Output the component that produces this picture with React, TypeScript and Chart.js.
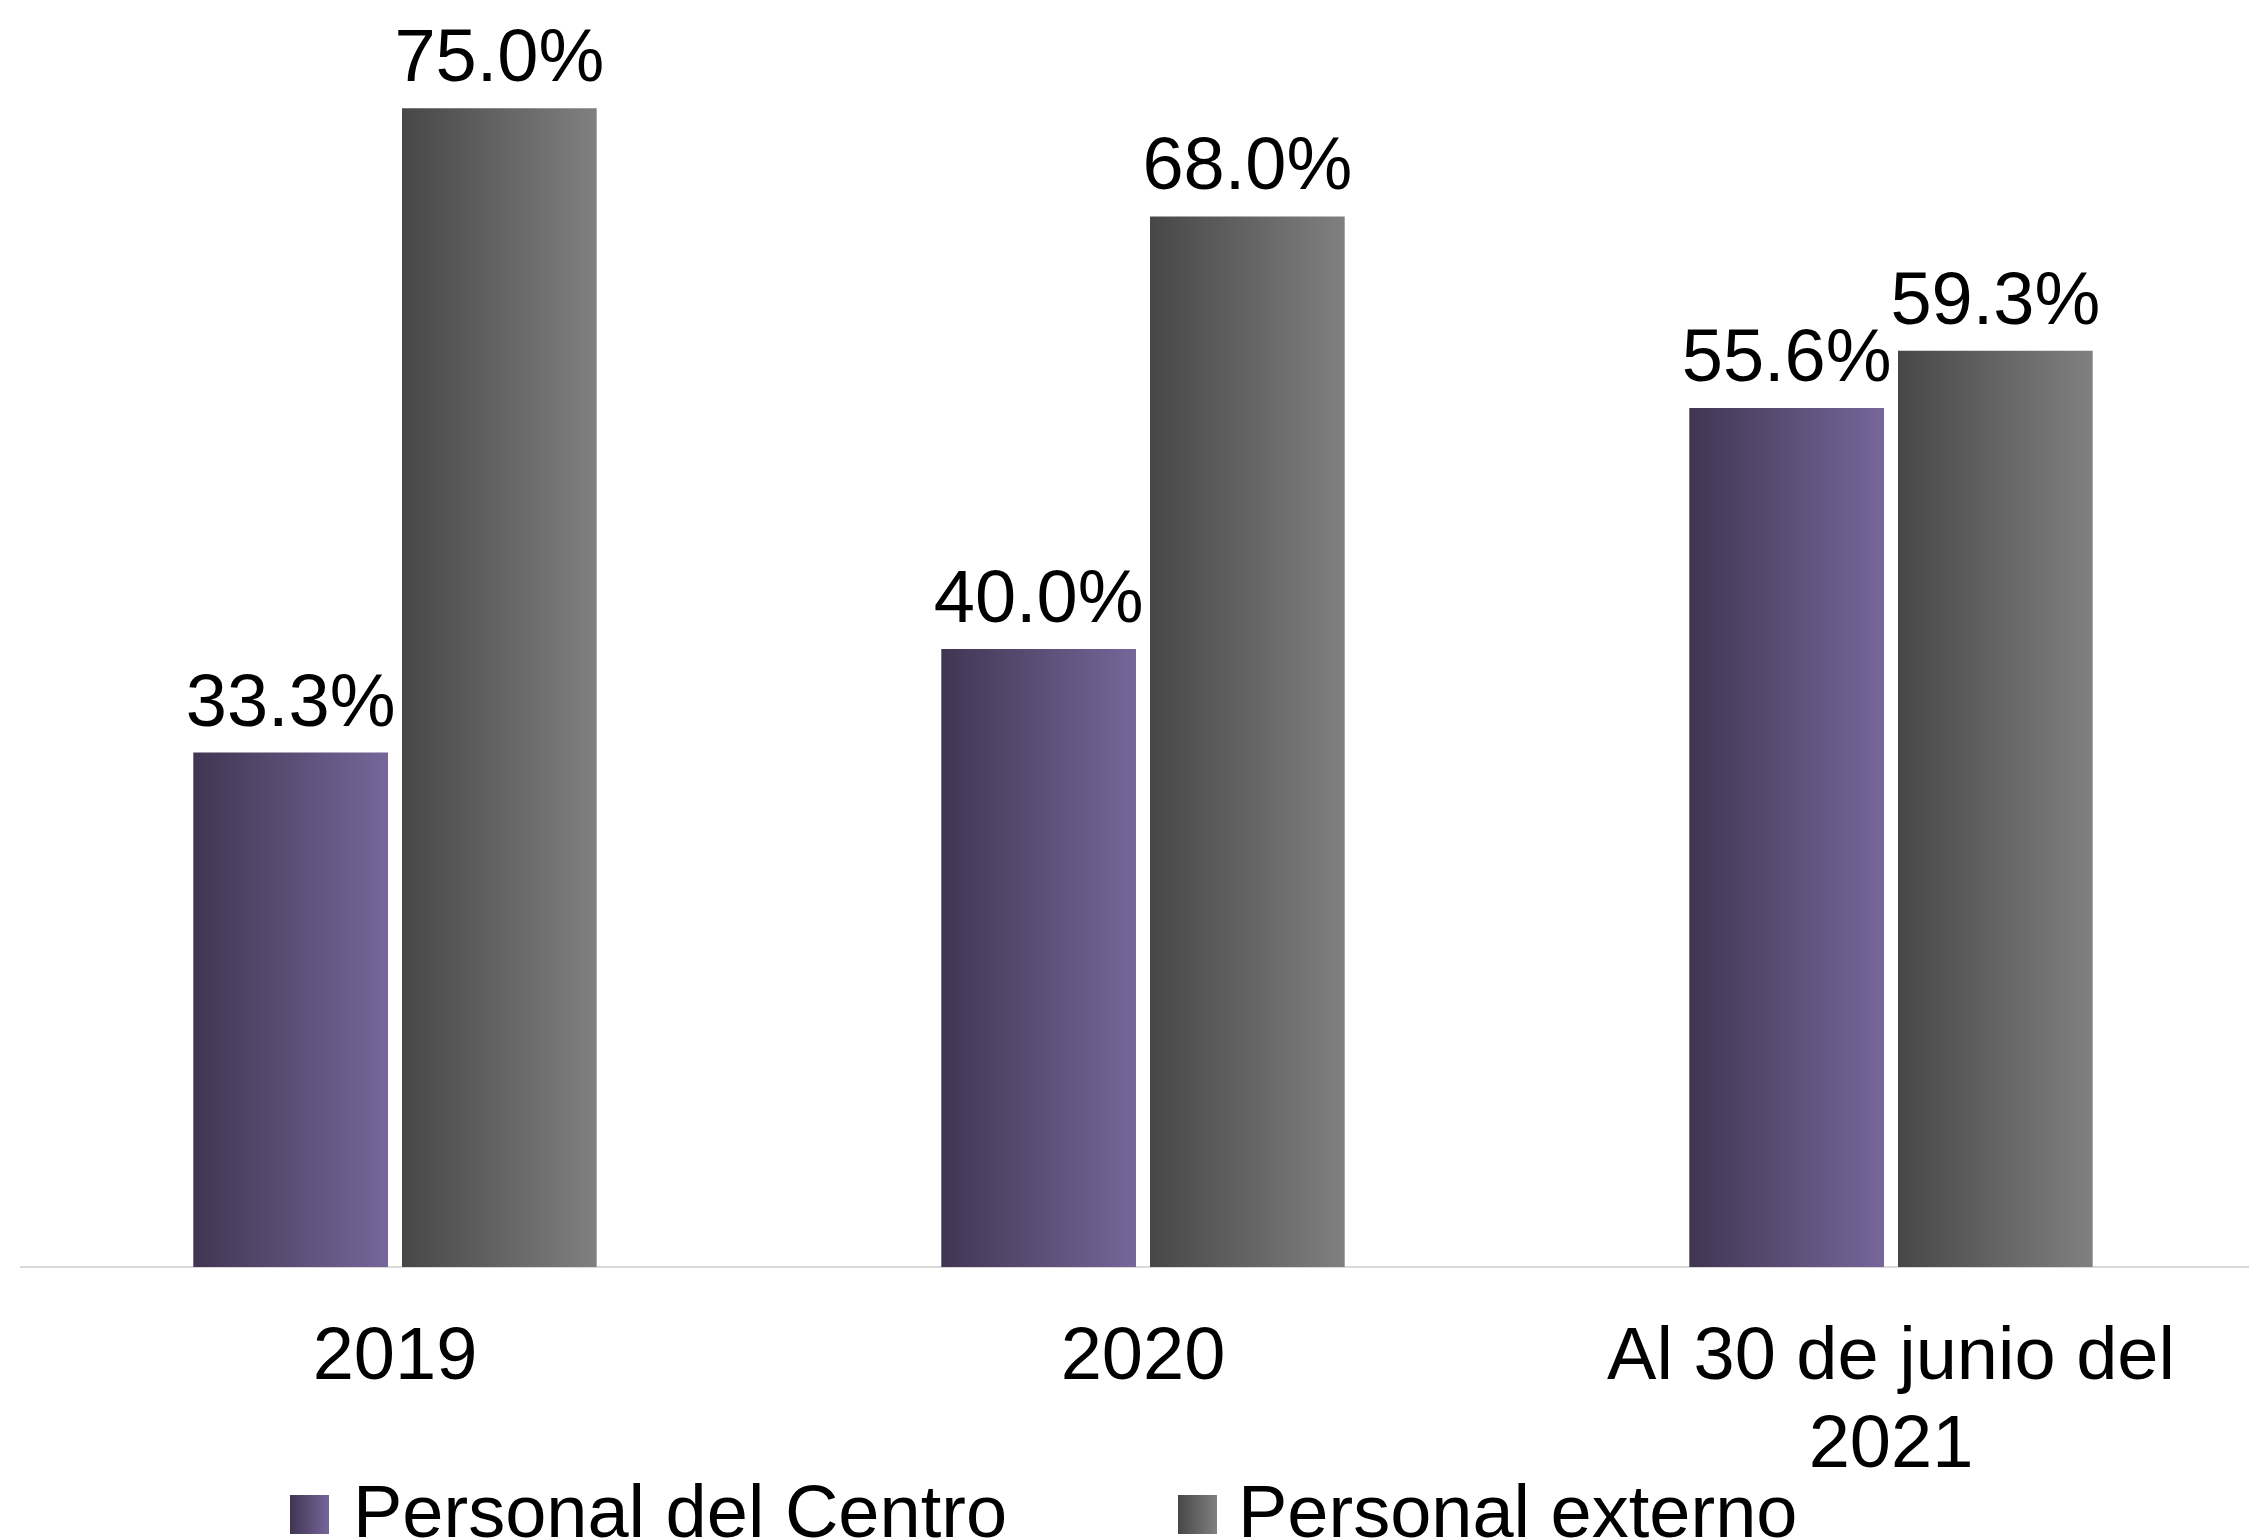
import React, { useEffect, useRef } from "react";
import { Chart, registerables } from "chart.js";

Chart.register(...registerables);

const categories: (string | string[])[] = ["2019", "2020", ["Al 30 de junio del", "2021"]];
const seriesNames = ["Personal del Centro", "Personal externo"];
const personalCentro = [33.3, 40.0, 55.6];
const personalExterno = [75.0, 68.0, 59.3];
const yMin = 0;
const yMax = 80;

const FONT = '"Liberation Sans", Arial, sans-serif';
const gradientStops = [
  ["#403652", "#76669a"],
  ["#474747", "#808080"],
];

function makeGradient(ctx: CanvasRenderingContext2D, x0: number, x1: number, stops: string[]) {
  const g = ctx.createLinearGradient(x0, 0, x1, 0);
  g.addColorStop(0, stops[0]);
  g.addColorStop(1, stops[1]);
  return g;
}

const gradientPlugin = {
  id: "barGradient",
  beforeDatasetsDraw(chart: any) {
    const ctx = chart.ctx;
    chart.data.datasets.forEach((_ds: any, di: number) => {
      const meta = chart.getDatasetMeta(di);
      meta.data.forEach((el: any) => {
        const left = el.x - el.width / 2;
        const right = el.x + el.width / 2;
        el.options = { ...el.options, backgroundColor: makeGradient(ctx, left, right, gradientStops[di]) };
      });
    });
  },
};

const labelPlugin = {
  id: "valueLabels",
  afterDatasetsDraw(chart: any) {
    const ctx = chart.ctx;
    ctx.save();
    ctx.font = `74px ${FONT}`;
    ctx.fillStyle = "#000000";
    ctx.textAlign = "center";
    ctx.textBaseline = "alphabetic";
    chart.data.datasets.forEach((ds: any, di: number) => {
      const meta = chart.getDatasetMeta(di);
      meta.data.forEach((el: any, i: number) => {
        const v = ds.data[i];
        ctx.fillText(`${v.toFixed(1)}%`, el.x, el.y - 27);
      });
    });
    ctx.restore();
  },
};

const legendPlugin = {
  id: "customLegend",
  afterDraw(chart: any) {
    const ctx = chart.ctx;
    const items = [
      { boxX: 290, textX: 353 },
      { boxX: 1178, textX: 1238 },
    ];
    const boxTop = 1495;
    const boxSize = 39;
    const baseline = 1537;
    ctx.save();
    chart.data.datasets.forEach((ds: any, di: number) => {
      const it = items[di];
      ctx.fillStyle = makeGradient(ctx, it.boxX, it.boxX + boxSize, gradientStops[di]);
      ctx.fillRect(it.boxX, boxTop, boxSize, boxSize);
      ctx.font = `74px ${FONT}`;
      ctx.fillStyle = "#000000";
      ctx.textAlign = "left";
      ctx.textBaseline = "alphabetic";
      ctx.fillText(ds.label, it.textX, baseline);
    });
    ctx.restore();
  },
};

export default function App() {
  const ref = useRef<HTMLCanvasElement>(null);
  useEffect(() => {
    if (!ref.current) return;
    const chart = new Chart(ref.current, {
      type: "bar",
      data: {
        labels: categories,
        datasets: [
          { label: seriesNames[0], data: personalCentro, backgroundColor: gradientStops[0][1], borderWidth: 0 },
          { label: seriesNames[1], data: personalExterno, backgroundColor: gradientStops[1][1], borderWidth: 0 },
        ],
      },
      options: {
        responsive: false,
        animation: false,
        layout: { padding: { top: 31, left: 21, right: 5, bottom: 0 } },
        datasets: { bar: { categoryPercentage: 0.558, barPercentage: 0.933 } },
        plugins: { legend: { display: false }, tooltip: { enabled: false } },
        scales: {
          x: {
            grid: { display: false, drawTicks: false },
            border: { display: true, color: "#d9d9d9", width: 2 },
            ticks: {
              color: "#000000",
              font: { size: 74, family: FONT, lineHeight: 88 / 74 },
              padding: 48,
              maxRotation: 0,
              autoSkip: false,
            },
            afterFit: (scale: any) => {
              scale.height = 1539 - 1267;
            },
          },
          y: { display: false, min: yMin, max: yMax },
        },
      },
      plugins: [gradientPlugin, labelPlugin, legendPlugin],
    });
    return () => chart.destroy();
  }, []);
  return (
    <div style={{ position: "fixed", left: 0, top: 0, width: 2249, height: 1539, overflow: "hidden", background: "#fff" }}>
      <canvas ref={ref} width={2270} height={1539} style={{ display: "block", width: 2270, height: 1539 }} />
    </div>
  );
}
